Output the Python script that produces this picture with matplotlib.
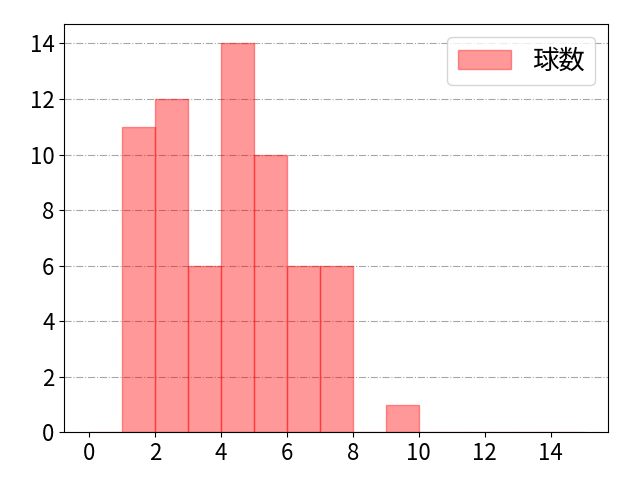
import matplotlib
matplotlib.use("Agg")
import matplotlib.pyplot as plt
import numpy as np

plt.rcParams['font.family'] = ['Noto Sans CJK JP', 'DejaVu Sans']

bin_edges = list(range(0, 16))
counts = [0, 11, 12, 6, 14, 10, 6, 6, 0, 1, 0, 0, 0, 0, 0]
label = "球数"

fig = plt.figure(figsize=(6.4, 4.8), dpi=100)
ax = fig.add_axes([64.3/640, 1 - 432.3/480, (608.3-64.3)/640, (432.3-24)/480])
lefts = np.array(bin_edges[:-1])
widths = np.diff(bin_edges)
ax.bar(lefts, counts, width=widths, align='edge', color='red', alpha=0.4,
       edgecolor='red', linewidth=1, label=label)
ax.set_xlim(-0.75, 15.75)
ax.set_ylim(0, 14.7)
ax.set_xticks(range(0, 15, 2))
ax.set_yticks(range(0, 15, 2))
ax.tick_params(labelsize=16)
ax.yaxis.grid(True, linestyle='-.', color='gray', alpha=0.7)
ax.set_axisbelow(True)
ax.legend(fontsize=19, loc='upper right')
fig.savefig("out.png")
